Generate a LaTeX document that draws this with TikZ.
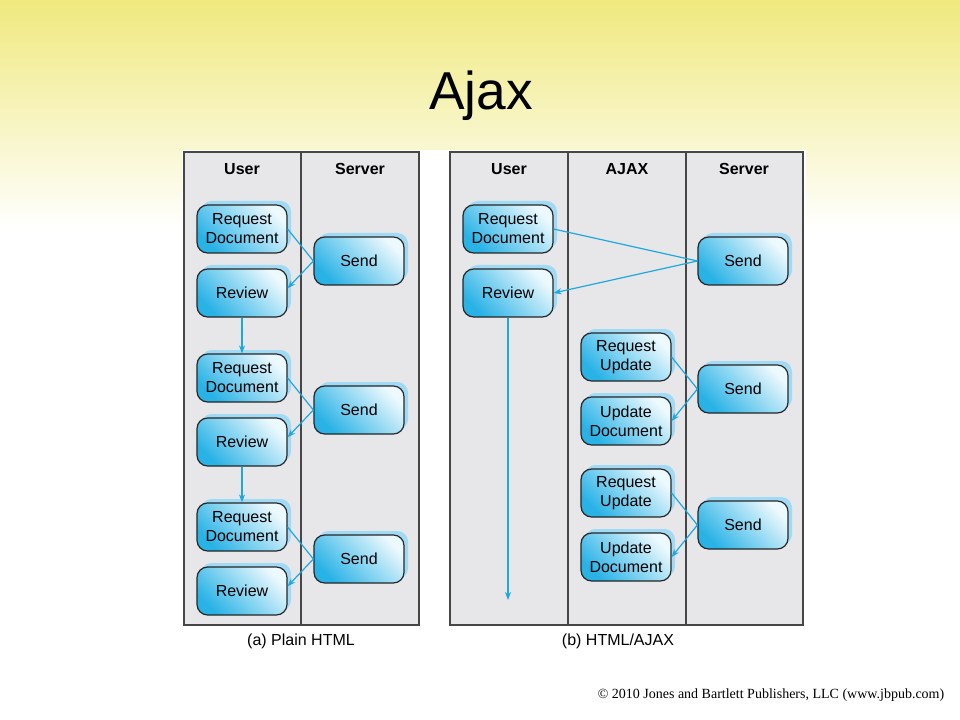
\documentclass[tikz,border=0pt]{standalone}
\usepackage{fontspec}
\setmainfont{Liberation Sans}
\newfontfamily\copyfont{Liberation Serif}
\usetikzlibrary{arrows.meta,shadows,calc}

\definecolor{boxdark}{RGB}{40,178,230}
\definecolor{boxlight}{RGB}{236,249,254}
\definecolor{shadowblue}{RGB}{160,218,244}
\definecolor{linkblue}{RGB}{28,168,224}
\definecolor{lanegray}{RGB}{231,231,233}
\definecolor{laneborder}{RGB}{70,70,70}
\definecolor{slideyellow}{RGB}{239,233,126}

\begin{document}
\begin{tikzpicture}[x=0.75pt,y=-0.75pt,
  stepbox/.style={draw=black!85, line width=0.9pt, rounded corners=8pt,
    minimum width=67.5pt, minimum height=36pt, inner sep=0pt, align=center,
    font=\fontsize{12}{14.3}\selectfont,
    top color=boxlight, bottom color=boxdark, shading angle=-45,
    general shadow={fill=shadowblue, shadow xshift=3pt, shadow yshift=3pt}},
  lane/.style={fill=lanegray, draw=laneborder, line width=0.8pt},
  divider/.style={draw=laneborder, line width=0.8pt},
  header/.style={font=\fontsize{12}{14}\selectfont\bfseries},
  caption/.style={font=\fontsize{12}{14}\selectfont},
  link/.style={draw=linkblue, line width=0.9pt},
  arrowlink/.style={link, -{Stealth[length=6pt,width=4.5pt]}}
]
\useasboundingbox (0,0) rectangle (960,720);
% slide background
\fill[white] (0,0) rectangle (960,720);
\shade[top color=slideyellow, bottom color=white] (0,0) rectangle (960,230);
\fill[white] (182,150) rectangle (806,656);

% title
\node[anchor=base, font=\fontsize{40}{44}\selectfont] (title) at (481,110) {Ajax};

% ---------- panel (a) ----------
\draw[lane] (184,152) rectangle (419,625);
\draw[divider] (301,152) -- (301,625);
\node[header] (ua) at (242,169) {User};
\node[header] (sa) at (360,169) {Server};

\node[stepbox] (rda1) at (242,229) {Request\\Document};
\node[stepbox] (rva1) at (242,293) {Review};
\node[stepbox] (sda1) at (359,261) {Send};

\node[stepbox] (rda2) at (242,378) {Request\\Document};
\node[stepbox] (rva2) at (242,442) {Review};
\node[stepbox] (sda2) at (359,410) {Send};

\node[stepbox] (rda3) at (242,527) {Request\\Document};
\node[stepbox] (rva3) at (242,591) {Review};
\node[stepbox] (sda3) at (359,559) {Send};

\draw[link] (rda1.east) -- (sda1.west);
\draw[arrowlink] (sda1.west) -- (rva1.6);
\draw[arrowlink] (rva1.south) -- (rda2.north);
\draw[link] (rda2.east) -- (sda2.west);
\draw[arrowlink] (sda2.west) -- (rva2.6);
\draw[arrowlink] (rva2.south) -- (rda3.north);
\draw[link] (rda3.east) -- (sda3.west);
\draw[arrowlink] (sda3.west) -- (rva3.6);

\node[caption] (capa) at (301,641) {(a) Plain HTML};

% ---------- panel (b) ----------
\draw[lane] (450,152) rectangle (803,625);
\draw[divider] (568,152) -- (568,625);
\draw[divider] (686,152) -- (686,625);
\node[header] (ub) at (509,169) {User};
\node[header] (ab) at (627,169) {AJAX};
\node[header] (sb) at (744,169) {Server};

\node[stepbox] (rdb) at (508,229) {Request\\Document};
\node[stepbox] (rvb) at (508,293) {Review};
\node[stepbox] (sdb) at (743,261) {Send};

\node[stepbox] (rub1) at (626,357) {Request\\Update};
\node[stepbox] (udb1) at (626,421) {Update\\Document};
\node[stepbox] (sdb1) at (743,389) {Send};

\node[stepbox] (rub2) at (626,493) {Request\\Update};
\node[stepbox] (udb2) at (626,557) {Update\\Document};
\node[stepbox] (sdb2) at (743,525) {Send};

\coordinate (endb) at (508,600);

\draw[link] (rdb.east) -- (sdb.west);
\draw[arrowlink] (sdb.west) -- (rvb.east);
\draw[arrowlink] (rvb.south) -- (endb);
\draw[link] (rub1.east) -- (sdb1.west);
\draw[arrowlink] (sdb1.west) -- (udb1.east);
\draw[link] (rub2.east) -- (sdb2.west);
\draw[arrowlink] (sdb2.west) -- (udb2.east);

\node[caption] (capb) at (618,641) {(b) HTML/AJAX};

% copyright
\node[font=\copyfont\fontsize{10.5}{12}\selectfont] (copy) at (771,695)
  {\textcopyright{} 2010 Jones and Bartlett Publishers, LLC (www.jbpub.com)};
\end{tikzpicture}
\end{document}
